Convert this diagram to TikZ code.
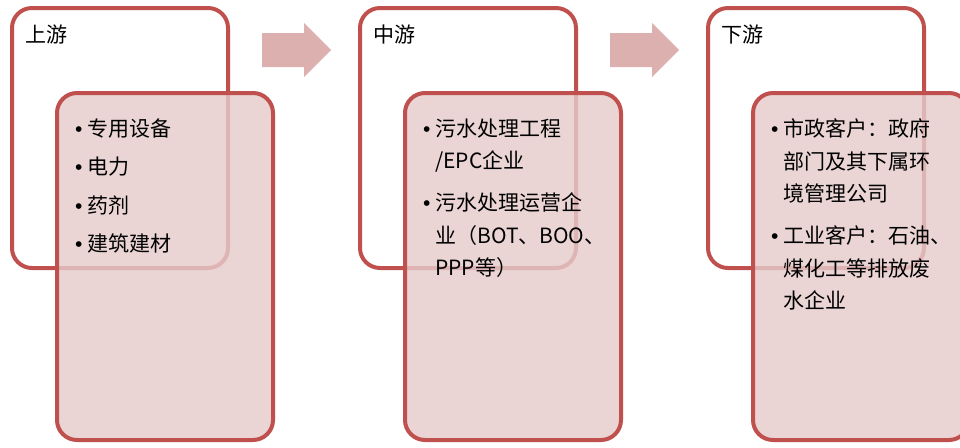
\documentclass[tikz,border=0pt]{standalone}
\usepackage{fontspec}
\setmainfont{Noto Sans CJK SC}
\newfontfamily\bulfont{Liberation Sans}
\definecolor{boxred}{RGB}{192,80,77}
\definecolor{boxpink}{RGB}{229,203,203}
\definecolor{arrowpink}{RGB}{221,176,176}
\newcommand{\bul}{\makebox[13pt][l]{\hspace*{1pt}{\bulfont •}}}
\newcommand{\ind}{\hspace*{13pt}}

\begin{document}
\begin{tikzpicture}[x=1pt,y=-1pt,
  outbox/.style={draw=boxred,line width=4pt,rounded corners=20pt},
  inbox/.style={draw=boxred,line width=4pt,rounded corners=20pt,fill=boxpink,fill opacity=0.82},
  flow/.style={fill=arrowpink},
  title/.style={anchor=base west,inner sep=0pt,font=\fontsize{21}{21}\selectfont},
  list/.style={anchor=north west,align=left,inner sep=0pt,font=\fontsize{21}{32.5}\selectfont}]
\useasboundingbox (0,0) rectangle (960,447);
\draw[outbox] (12,8) rectangle (228,268);
\draw[outbox] (360,8) rectangle (576,268);
\draw[outbox] (708,8) rectangle (924,268);
\fill[flow] (262,33) -- (304,33) -- (304,23) -- (331,50) -- (304,77) -- (304,67) -- (262,67) -- cycle;
\fill[flow] (610,33) -- (652,33) -- (652,23) -- (679,50) -- (652,77) -- (652,67) -- (610,67) -- cycle;
\node[title] (up) at (25,42) {上游};
\node[title] (mid) at (373,42) {中游};
\node[title] (down) at (721,42) {下游};
\draw[inbox] (57,93) rectangle (273,440);
\draw[inbox] (405,93) rectangle (621,440);
\draw[inbox] (753,93) rectangle (969,440);
\node[list] (uplist) at (74,118.5) {\bul 专用设备\\[6pt]\bul 电力\\[6pt]\bul 药剂\\[6pt]\bul 建筑建材};
\node[list] (midlist) at (422,118.5) {\bul 污水处理工程\\\ind /EPC企业\\[9.5pt]\bul 污水处理运营企\\\ind 业（BOT、BOO、\\\ind PPP等）};
\node[list] (downlist) at (770,118.5) {\bul 市政客户：政府\\\ind 部门及其下属环\\\ind 境管理公司\\[9.5pt]\bul 工业客户：石油、\\\ind 煤化工等排放废\\\ind 水企业};
\end{tikzpicture}
\end{document}
